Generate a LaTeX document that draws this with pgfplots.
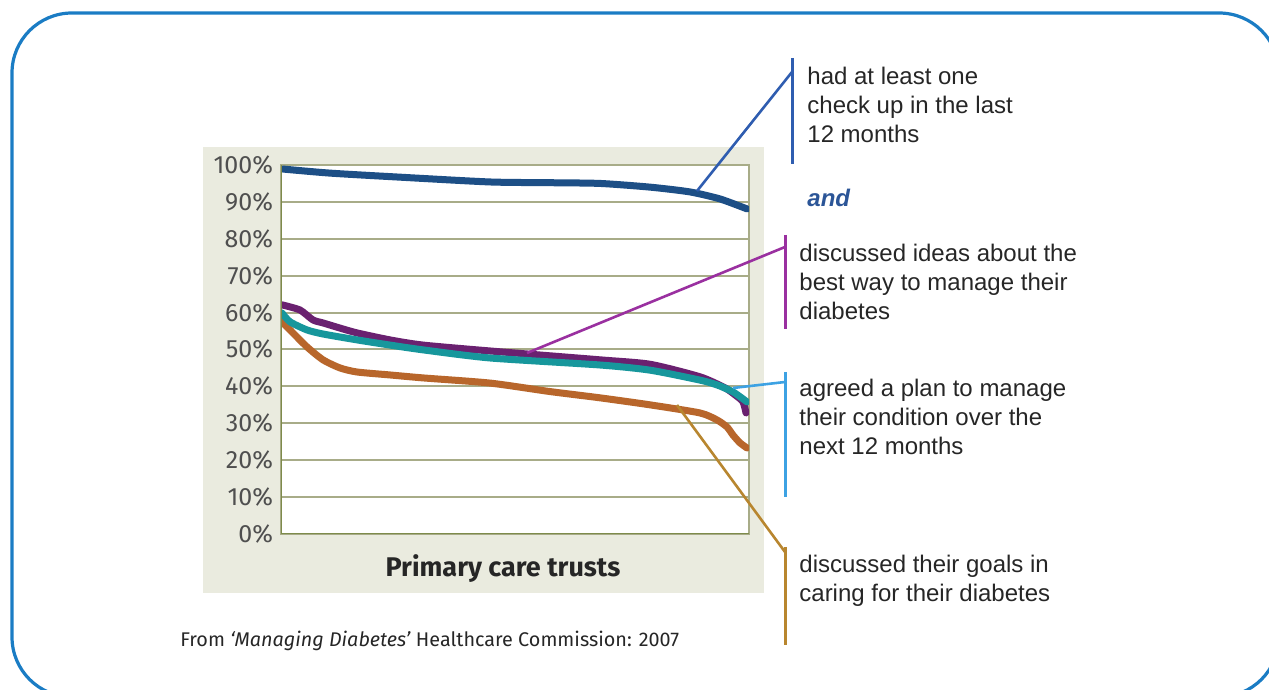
\documentclass[border=0pt]{standalone}
\usepackage{fontspec}
\setmainfont{Liberation Sans}
\newfontfamily\chartfont{Fira Sans}
\usepackage{pgfplots}
\pgfplotsset{compat=1.18}

\definecolor{panel}{HTML}{EAEBDF}
\definecolor{gridc}{HTML}{A8AC88}
\definecolor{axisc}{HTML}{7E8B4B}
\definecolor{tickgray}{HTML}{4F4F4F}
\definecolor{txt}{HTML}{262626}
\definecolor{cBlue}{HTML}{1D4F86}
\definecolor{cPurple}{HTML}{6A2170}
\definecolor{cTeal}{HTML}{17979C}
\definecolor{cOrange}{HTML}{B8662B}
\definecolor{aBlue}{HTML}{2F5DB0}
\definecolor{aPurple}{HTML}{9A30A0}
\definecolor{aLight}{HTML}{3DA2E3}
\definecolor{aGold}{HTML}{B8862F}
\definecolor{border}{HTML}{1A7CC4}
\definecolor{andc}{HTML}{2B5597}

\begin{document}
\begin{tikzpicture}
% background panel, pixel units (y measured from the bottom)
\begin{scope}[x=0.5pt,y=0.5pt]
\useasboundingbox (0,0) rectangle (1269,690);
\fill[panel] (203,97) rectangle (764,543);
\end{scope}

\begin{axis}[
    at={(140.5pt,78pt)}, anchor=south west,
    scale only axis,
    width=234pt, height=184.5pt,
    xmin=0, xmax=468,
    ymin=0, ymax=100,
    xtick=\empty,
    ytick={0,10,...,100},
    yticklabel={\pgfmathprintnumber{\tick}\%},
    /pgf/number format/assume math mode=true,
    yticklabel style={font=\chartfont\fontsize{12.5}{14}\selectfont, text=tickgray, xshift=-0.5pt},
    major tick length=0pt,
    ymajorgrids,
    major grid style={draw=gridc, line width=1pt},
    axis line style={draw=gridc, line width=0.8pt},
    axis background/.style={fill=white},
    every axis plot/.append style={line width=3.5pt, line cap=round, line join=round, smooth, tension=0.4},
]
% had at least one check up
\addplot[cBlue] coordinates {
    (2,98.9) (49,97.8) (119,96.7) (209,95.4) (269,95.2) (319,95.0)
    (369,94.0) (409,92.7) (439,90.8) (466,88.1)
};
% discussed their goals
\addplot[cOrange] coordinates {
    (1,57.5) (9,55.3) (26,50.7) (42,47.2) (59,45.0) (76,43.9) (109,43.1)
    (142,42.3) (209,40.9) (269,38.6) (319,36.9) (369,35.0) (419,32.8)
    (436,30.9) (446,29.0) (452,26.8) (459,24.7) (466,23.3)
};
% discussed ideas
\addplot[cPurple] coordinates {
    (1,62.1) (19,60.7) (32,58.0) (42,57.2) (59,55.8) (76,54.5) (109,52.6)
    (142,51.2) (209,49.6) (319,47.2) (369,46.0) (419,42.6) (444,39.6)
    (455,37.5) (462,35.8) (465,32.8)
};
% agreed a plan
\addplot[cTeal] coordinates {
    (1,59.9) (9,57.5) (26,55.3) (42,54.2) (76,52.6) (109,51.2) (142,49.9)
    (209,47.7) (319,45.8) (369,44.4) (419,41.7) (436,40.4) (452,38.5)
    (466,35.8)
};
\draw[axisc, line width=1.2pt] (rel axis cs:0,1) -- (rel axis cs:0,0) -- (rel axis cs:1,0);
\end{axis}

\begin{scope}[x=0.5pt,y=0.5pt]
\begin{scope}
\clip (0,0) rectangle (1269,690);
\draw[border, line width=1.6pt, rounded corners=30pt] (12,677) rectangle (1279,-7);
\end{scope}

% leader lines
\draw[aBlue, line width=1.5pt] (792,632) -- (792,526);
\draw[aBlue, line width=1.3pt] (697,499) -- (792,618);
\draw[aPurple, line width=1.5pt] (785,455) -- (785,361);
\draw[aPurple, line width=1.3pt] (527,337) -- (785,443);
\draw[aLight, line width=1.5pt] (785,318) -- (785,193);
\draw[aLight, line width=1.3pt] (733,302) -- (785,308);
\draw[aGold, line width=1.5pt] (785,143) -- (785,45);
\draw[aGold, line width=1.3pt] (677,285) -- (785,138);

\begin{scope}[every node/.style={anchor=base west, inner sep=0pt, text=txt, font=\fontsize{12}{14.5}\selectfont}]
\node at (807,605) {had at least one};
\node at (807,576) {check up in the last};
\node at (807,547) {12 months};
\node[text=andc, font=\fontsize{12}{14.5}\selectfont\bfseries\itshape] at (807,483) {and};
\node at (799,428) {discussed ideas about the};
\node at (799,399) {best way to manage their};
\node at (799,370) {diabetes};
\node at (799,293) {agreed a plan to manage};
\node at (799,264) {their condition over the};
\node at (799,235) {next 12 months};
\node at (799,117) {discussed their goals in};
\node at (799,88) {caring for their diabetes};
\end{scope}

\node[anchor=base, inner sep=0pt, text=txt, font=\chartfont\fontsize{13.5}{16}\selectfont\bfseries] at (503,113) {Primary care trusts};
\node[anchor=base west, inner sep=0pt, text=txt, font=\chartfont\fontsize{9.9}{12}\selectfont] at (180,43) {From \textit{‘Managing Diabetes’} Healthcare Commission: 2007};
\end{scope}
\end{tikzpicture}
\end{document}
